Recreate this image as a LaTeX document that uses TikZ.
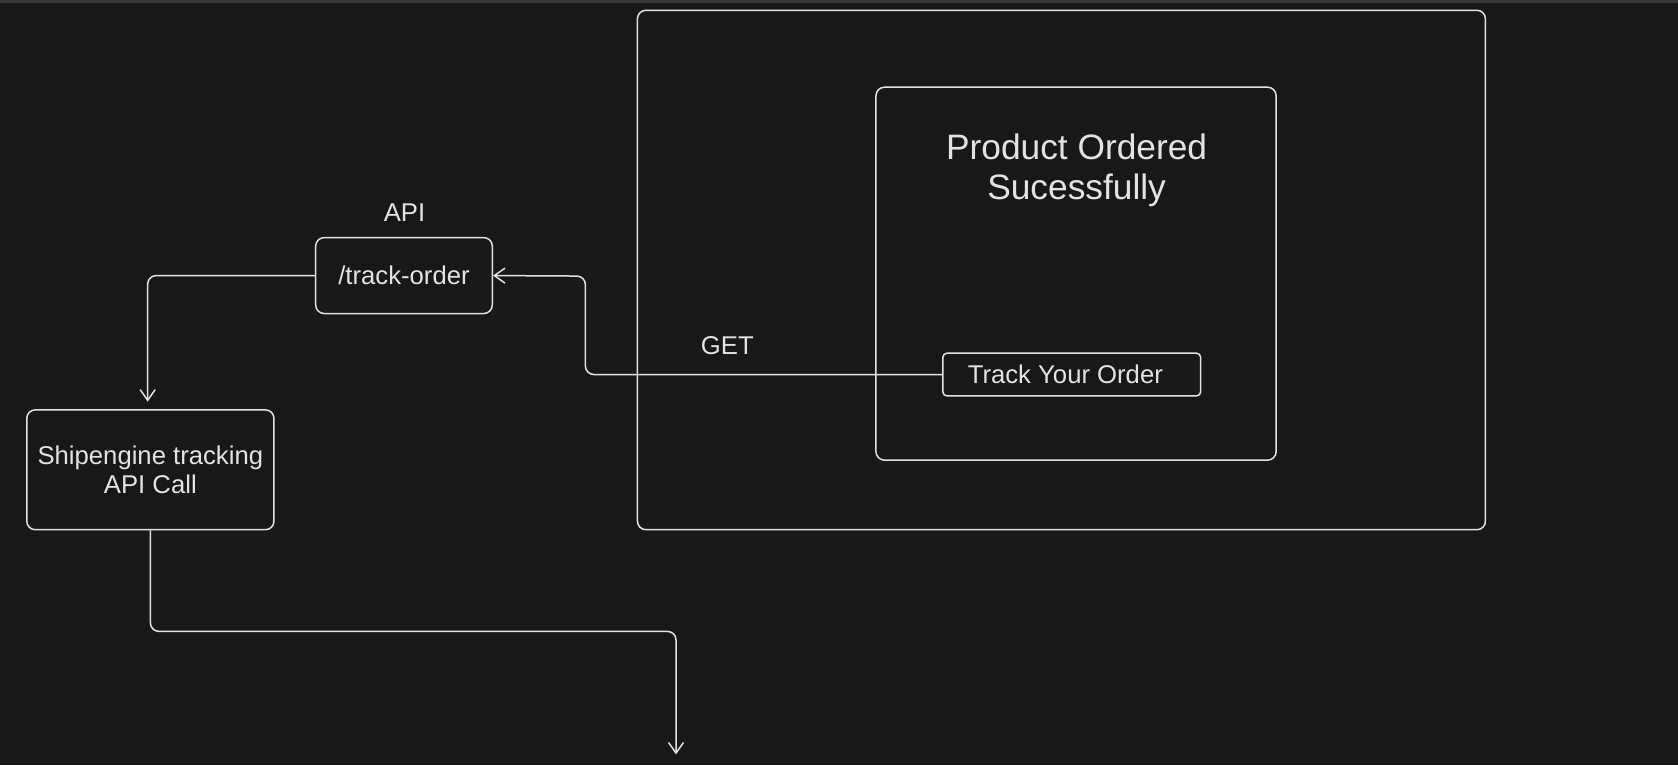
\documentclass[tikz,border=0pt]{standalone}
\usepackage{fontspec}
\setmainfont{Liberation Sans}
\usetikzlibrary{arrows.meta}
\definecolor{canvas}{HTML}{181818}
\definecolor{ink}{HTML}{E3E3E3}
\definecolor{rim}{HTML}{3A3A3A}
\begin{document}
\begin{tikzpicture}
    [
        x=0.5pt, y=-0.5pt,
        every node/.style={text=ink, font=\fontsize{12}{13.5}\selectfont, inner sep=0pt},
        box/.style={draw=ink, line width=0.7pt, rounded corners=4pt, align=center},
        heading/.style={font=\fontsize{16.5}{18.5}\selectfont, align=center},
        conn/.style={draw=ink, line width=0.7pt, rounded corners=4pt, -{Straight Barb[length=5pt,width=7pt]}},
    ]
  % Canvas
  \fill[canvas] (0,0) rectangle (1568,715);
  \useasboundingbox (0,0) rectangle (1568,715);
  \fill[rim] (0,0) rectangle (1568,2.5);

  % Nodes
  \node [box, minimum width=396.2pt, minimum height=242.7pt] (page) at (991.85,252.3) {};
  \node [box, minimum width=186.95pt, minimum height=174.25pt] (success) at (1005.5,255.75) {};
  \node [heading] (msg) at (1006,159) {Product Ordered\\Sucessfully};
  \node [box, rounded corners=2pt, minimum width=120.5pt, minimum height=20pt] (btn) at (1001.5,350) {\hspace*{-6pt}Track Your Order};
  \node [box, minimum width=82.5pt, minimum height=35.5pt] (api) at (377.5,257.5) {/track-order};
  \node [] (apitag) at (378,199) {API};
  \node [box, minimum width=115.5pt, minimum height=56pt] (ship) at (140.5,439) {Shipengine tracking\\API Call};
  \node [] (get) at (679.6,322.6) {GET};
  \coordinate (bend) at (547,258);
  \coordinate (drop) at (631.7,590);
  \coordinate (out) at (631.7,705);

  % Connections
  \draw [conn, shorten >=3.5pt] (api.west) -| ([xshift=-1.25pt]ship.north);
  \draw [conn] (btn.west) -| (bend) -- (api.east);
  \draw [conn] (ship.south) |- (drop) -- (out);
\end{tikzpicture}
\end{document}
